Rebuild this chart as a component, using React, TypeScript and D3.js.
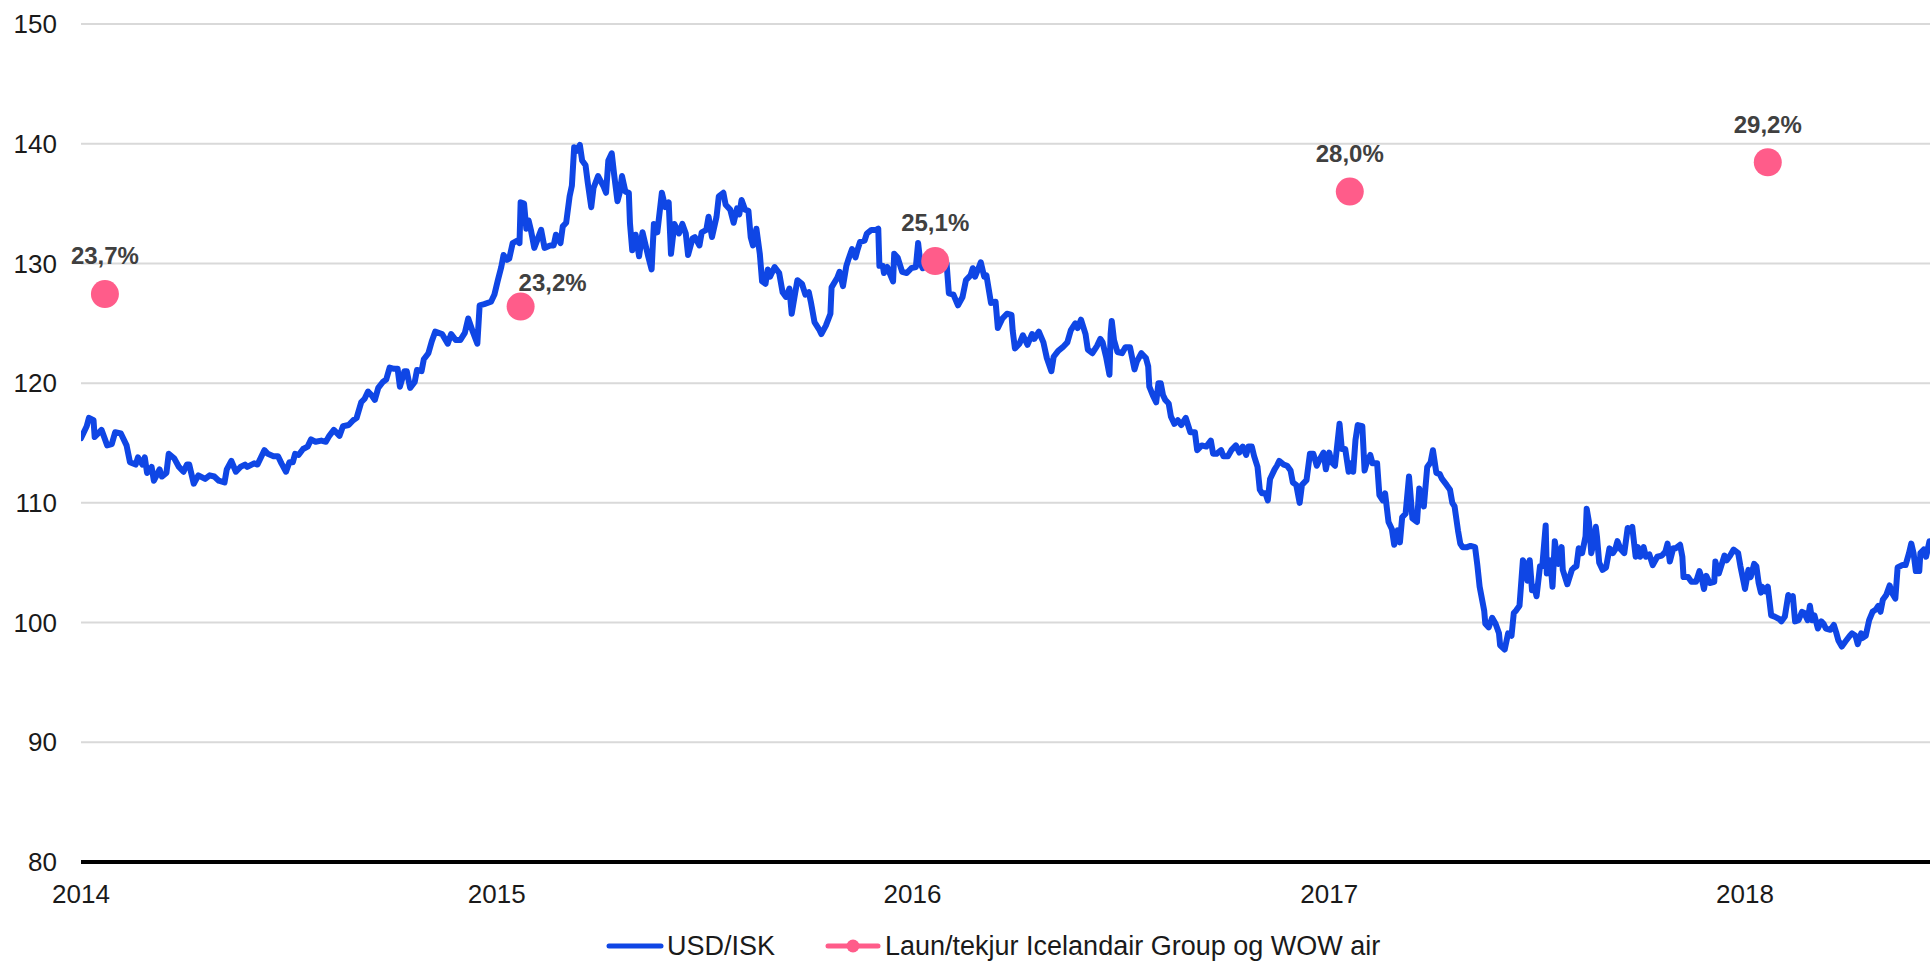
import React from "react";
import * as d3 from "d3";

// USD/ISK exchange rate: [days since 2014-01-01, value]
const usdIsk: [number, number][] = [
  [0,115.4],[5,116.4],[7,117.1],[11,116.9],[12,115.5],[18,116.1],[23,114.8],[27,114.9],[30,115.9],[35,115.8],
  [40,114.8],[43,113.4],[48,113.2],[50,113.8],[54,113.2],[56,113.8],[58,112.5],[62,113.0],[64,111.85],[69,112.8],
  [71,112.2],[75,112.5],[77,114.1],[82,113.7],[86,113.0],[90,112.6],[93,113.2],[95,113.2],[99,111.6],[103,112.3],
  [109,112.0],[113,112.3],[117,112.2],[121,111.85],[126,111.7],[128,112.8],[132,113.5],[136,112.6],[140,113.0],[144,113.2],
  [146,113.0],[152,113.3],[155,113.2],[161,114.4],[164,114.1],[169,113.9],[173,113.9],[176,113.3],[180,112.6],[183,113.4],
  [186,113.4],[188,114.1],[191,114.0],[195,114.5],[199,114.7],[202,115.3],[206,115.1],[211,115.2],[215,115.1],[218,115.6],
  [222,116.1],[227,115.6],[230,116.4],[235,116.5],[239,116.9],[242,117.1],[246,118.4],[249,118.7],[252,119.3],[255,119.0],
  [258,118.6],[261,119.6],[265,120.1],[268,120.3],[271,121.3],[275,121.2],[278,121.2],[280,119.7],[284,121.0],[286,121.0],
  [289,119.6],[293,120.1],[295,121.1],[299,121.0],[301,122.0],[305,122.5],[308,123.5],[311,124.3],[317,124.1],[322,123.3],
  [325,124.1],[329,123.6],[333,123.6],[337,124.2],[340,125.4],[344,124.3],[348,123.3],[350,126.5],[354,126.6],[360,126.8],
  [363,127.4],[366,128.6],[369,129.7],[371,130.7],[374,130.3],[376,130.4],[379,131.7],[383,131.9],[385,131.7],[386,135.1],
  [389,135.0],[391,132.9],[393,133.6],[395,132.8],[398,131.3],[404,132.8],[407,131.3],[412,131.5],[415,131.5],[417,132.4],
  [421,131.7],[423,133.1],[426,133.4],[429,135.6],[431,136.5],[433,139.7],[435,139.4],[438,139.9],[440,138.6],[443,138.2],
  [445,136.7],[448,134.7],[450,136.3],[454,137.3],[459,136.4],[461,135.9],[463,138.6],[466,139.2],[468,137.5],[471,135.2],
  [473,135.9],[475,137.3],[478,136.0],[481,135.9],[482,133.35],[484,131.1],[487,132.4],[490,130.6],[493,132.6],[498,130.6],
  [501,129.5],[503,133.3],[506,132.6],[510,135.9],[513,134.7],[516,135.1],[518,130.8],[521,133.3],[525,132.5],[528,133.3],
  [531,132.5],[533,130.7],[537,132.1],[539,132.2],[543,131.5],[545,132.6],[549,132.8],[551,133.9],[554,132.2],[558,133.9],
  [560,135.6],[564,135.9],[566,134.9],[570,134.5],[573,133.4],[576,134.6],[578,134.1],[580,135.3],[583,134.5],[586,134.4],
  [588,132.2],[590,131.5],[593,132.9],[596,130.8],[598,128.5],[601,128.3],[603,129.5],[605,128.9],[609,129.7],[613,129.2],
  [616,127.6],[619,127.2],[622,127.9],[624,125.8],[627,127.5],[629,128.6],[633,128.3],[636,127.4],[639,127.6],[641,126.7],
  [644,125.1],[648,124.5],[650,124.1],[654,124.8],[658,125.8],[659,128.0],[664,128.8],[666,129.3],[669,128.1],[672,129.8],
  [674,130.4],[677,131.2],[680,130.5],[682,131.2],[684,131.8],[688,131.9],[690,132.5],[694,132.8],[698,132.8],[700,132.9],
  [701,129.8],[704,129.8],[705,129.2],[708,129.7],[710,129.2],[713,128.5],[714,130.8],[717,130.5],[721,129.3],[725,129.2],
  [729,129.6],[733,129.7],[735,131.7],[737,130.0],[739,129.6],[745,130.0],[754,130.0],[760,130.0],[762,127.5],[766,127.4],
  [770,126.5],[774,127.2],[777,128.6],[781,129.0],[783,129.6],[785,128.9],[788,129.6],[790,130.1],[793,128.9],[795,129.0],
  [799,126.7],[803,126.8],[805,124.6],[809,125.4],[813,125.8],[817,125.7],[818,124.4],[820,122.9],[824,123.3],[827,124.0],
  [831,123.2],[835,124.1],[837,123.7],[841,124.3],[845,123.4],[848,122.1],[852,121.0],[854,122.2],[858,122.7],[862,123.0],
  [866,123.4],[869,124.4],[873,125.0],[875,124.6],[878,125.3],[882,124.1],[884,122.8],[888,122.5],[892,123.1],[895,123.7],
  [897,123.4],[900,122.2],[903,120.7],[904,124.1],[905,125.2],[907,123.6],[910,122.6],[914,122.5],[917,123.0],[921,123.0],
  [925,121.15],[927,121.8],[931,122.5],[935,122.1],[937,121.4],[938,119.7],[941,119.0],[944,118.4],[946,120.0],[948,120.0],
  [950,119.0],[952,118.6],[955,118.3],[957,117.2],[960,116.6],[963,116.9],[966,116.5],[970,117.1],[974,115.9],[978,115.9],
  [980,114.4],[984,114.8],[988,114.7],[992,115.2],[994,114.1],[997,114.1],[1001,114.4],[1003,113.9],[1007,113.9],[1010,114.4],
  [1014,114.8],[1017,114.2],[1020,114.7],[1023,114.0],[1025,114.7],[1028,114.7],[1030,113.9],[1033,113.0],[1035,111.1],[1037,110.8],
  [1040,110.8],[1042,110.2],[1044,112.0],[1048,112.8],[1050,113.1],[1052,113.5],[1056,113.2],[1059,113.1],[1062,112.7],[1064,111.7],
  [1067,111.5],[1070,110.0],[1072,111.5],[1076,111.9],[1079,114.1],[1082,114.1],[1085,113.1],[1088,113.7],[1091,114.2],[1093,112.8],
  [1096,114.2],[1098,113.4],[1101,113.1],[1105,116.6],[1107,114.5],[1110,114.5],[1113,112.6],[1115,113.3],[1117,112.6],[1119,115.25],
  [1121,116.5],[1125,116.4],[1127,112.7],[1129,113.4],[1132,114.0],[1134,113.3],[1138,113.3],[1140,110.65],[1143,110.2],[1145,110.8],
  [1148,108.4],[1151,107.8],[1153,106.5],[1156,107.7],[1158,106.7],[1160,108.8],[1163,109.1],[1166,112.2],[1169,108.7],[1173,108.4],
  [1175,111.2],[1179,109.7],[1182,113.0],[1185,113.4],[1187,114.4],[1190,112.5],[1193,112.4],[1195,112.0],[1199,111.5],[1202,111.1],
  [1204,110.0],[1206,109.7],[1209,107.7],[1211,106.6],[1213,106.3],[1217,106.3],[1220,106.4],[1224,106.3],[1226,104.8],[1228,103.0],
  [1232,101.0],[1233,99.9],[1236,99.6],[1239,100.4],[1242,99.9],[1245,99.1],[1246,98.1],[1250,97.75],[1253,99.1],[1256,98.9],
  [1258,100.8],[1260,101.0],[1263,101.4],[1266,105.2],[1268,104.9],[1270,103.5],[1272,105.2],[1274,102.7],[1276,103.0],[1278,102.2],
  [1281,104.7],[1283,104.7],[1286,108.1],[1287,104.1],[1290,105.2],[1292,103.0],[1294,106.8],[1297,104.9],[1300,106.3],[1301,104.4],
  [1305,103.2],[1307,103.8],[1309,104.4],[1311,104.6],[1313,104.7],[1315,106.2],[1318,105.8],[1321,107.2],[1322,109.5],[1324,108.4],
  [1326,105.8],[1328,106.6],[1330,108.0],[1331,107.2],[1333,105.0],[1336,104.4],[1339,104.6],[1342,106.2],[1345,105.8],[1347,106.1],
  [1349,106.8],[1352,106.1],[1355,105.8],[1358,107.9],[1360,107.7],[1362,108.0],[1365,105.5],[1367,106.3],[1369,105.5],[1372,106.3],
  [1374,105.5],[1377,105.7],[1380,104.8],[1384,105.5],[1388,105.6],[1391,105.9],[1393,106.6],[1395,105.1],[1398,106.2],[1400,106.2],
  [1404,106.5],[1406,105.5],[1407,103.8],[1411,103.8],[1414,103.4],[1418,103.4],[1421,104.3],[1423,103.7],[1425,102.8],[1427,103.9],
  [1430,103.3],[1434,103.4],[1435,105.1],[1438,104.1],[1440,104.7],[1443,105.6],[1445,105.2],[1448,105.6],[1451,106.1],[1455,105.8],
  [1457,104.7],[1460,103.3],[1461,102.8],[1464,104.4],[1466,103.8],[1469,104.9],[1471,104.7],[1473,103.3],[1475,102.5],[1476,103.0],
  [1479,102.6],[1481,103.0],[1484,100.6],[1487,100.5],[1491,100.3],[1493,100.1],[1496,100.5],[1499,102.3],[1501,102.0],[1503,102.2],
  [1505,100.1],[1508,100.2],[1511,100.9],[1513,100.8],[1516,100.2],[1518,101.4],[1520,100.2],[1522,100.6],[1525,99.5],[1528,100.1],
  [1530,99.9],[1532,99.5],[1536,99.4],[1539,99.8],[1541,99.2],[1543,98.5],[1546,98.0],[1549,98.4],[1553,98.9],[1555,99.1],
  [1558,98.9],[1560,98.2],[1563,99.1],[1564,98.7],[1567,98.9],[1570,100.2],[1573,100.9],[1576,101.1],[1578,101.4],[1580,100.9],
  [1582,101.9],[1585,102.3],[1588,103.1],[1590,102.5],[1593,102.0],[1595,104.6],[1599,104.8],[1602,104.8],[1605,105.8],[1607,106.6],
  [1609,105.8],[1611,104.3],[1614,104.3],[1615,105.8],[1618,106.1],[1620,105.5],[1623,106.8],[1625,106.8],
];

// Laun/tekjur Icelandair Group og WOW air (plotted on same scale)
const ratioDates = ["2014-01-22", "2015-01-22", "2016-01-21", "2017-01-19", "2018-01-21"];
const ratioValues = [127.44, 126.4, 130.2, 136.0, 138.45];
const ratioLabels = ["23,7%", "23,2%", "25,1%", "28,0%", "29,2%"];

const yTicks = [80, 90, 100, 110, 120, 130, 140, 150];
const xTickYears = [2014, 2015, 2016, 2017, 2018];

const seriesNames = ["USD/ISK", "Laun/tekjur Icelandair Group og WOW air"];

const BLUE = "#0f46e5";
const PINK = "#ff5c8a";
const FONT = "'Liberation Sans', Arial, sans-serif";

export default function App() {
  const W = 1930;
  const H = 961;
  const left = 81;
  const right = 1930;
  const top = 24;
  const bottom = 862;

  const base = Date.UTC(2014, 0, 1);
  const dayMs = 86400000;
  const x = d3
    .scaleUtc()
    .domain([new Date(Date.UTC(2014, 0, 1)), new Date(Date.UTC(2018, 0, 1))])
    .range([81, 1745]);
  const y = d3.scaleLinear().domain([80, 150]).range([bottom, top]);

  const line = d3
    .line<[number, number]>()
    .x((d) => x(new Date(base + d[0] * dayMs)))
    .y((d) => y(d[1]));

  // annotation placement (layout only)
  const labelPlacement = [
    { dx: 0, dy: -30 },
    { dx: 32, dy: -16 },
    { dx: 0, dy: -30 },
    { dx: 0, dy: -30 },
    { dx: 0, dy: -29 },
  ];

  return (
    <>
      <style>{`body{margin:0;background:#fff}`}</style>
      <svg width={W} height={H} style={{ display: "block" }} fontFamily={FONT}>
        <defs>
          <clipPath id="plotClip">
            <rect x={left} y={0} width={right - left} height={bottom + 2} />
          </clipPath>
        </defs>
        <rect x={0} y={0} width={W} height={H} fill="#fff" />
        {yTicks.map((t) => (
          <g key={t}>
            {t !== 80 && (
              <line x1={left} x2={right} y1={y(t)} y2={y(t)} stroke="#d9d9d9" strokeWidth={2} />
            )}
            <text x={57} y={y(t)} dy="0.35em" textAnchor="end" fontSize={26} fill="#1a1a1a">
              {t}
            </text>
          </g>
        ))}
        <path
          d={line(usdIsk) || ""}
          fill="none"
          stroke={BLUE}
          strokeWidth={6}
          strokeLinejoin="round"
          strokeLinecap="round"
          clipPath="url(#plotClip)"
        />
        <line x1={left} x2={right} y1={bottom} y2={bottom} stroke="#000" strokeWidth={4} />
        {xTickYears.map((yr) => (
          <text
            key={yr}
            x={x(new Date(Date.UTC(yr, 0, 1)))}
            y={903}
            textAnchor="middle"
            fontSize={26}
            fill="#1a1a1a"
          >
            {yr}
          </text>
        ))}
        {ratioDates.map((ds, i) => {
          const cx = x(new Date(ds + "T00:00:00Z"));
          const cy = y(ratioValues[i]);
          return (
            <g key={ds}>
              <circle cx={cx} cy={cy} r={14} fill={PINK} />
              <text
                x={cx + labelPlacement[i].dx}
                y={cy + labelPlacement[i].dy}
                textAnchor="middle"
                fontSize={24}
                fontWeight="bold"
                fill="#404040"
              >
                {ratioLabels[i]}
              </text>
            </g>
          );
        })}
        {/* legend */}
        <g>
          <line x1={609} x2={661} y1={946} y2={946} stroke={BLUE} strokeWidth={5} strokeLinecap="round" />
          <text x={667} y={955} fontSize={27} fill="#1a1a1a">
            {seriesNames[0]}
          </text>
          <line x1={828} x2={878} y1={946} y2={946} stroke={PINK} strokeWidth={5} strokeLinecap="round" />
          <circle cx={853} cy={946} r={6.5} fill={PINK} />
          <text x={885} y={955} fontSize={27} fill="#1a1a1a">
            {seriesNames[1]}
          </text>
        </g>
      </svg>
    </>
  );
}
